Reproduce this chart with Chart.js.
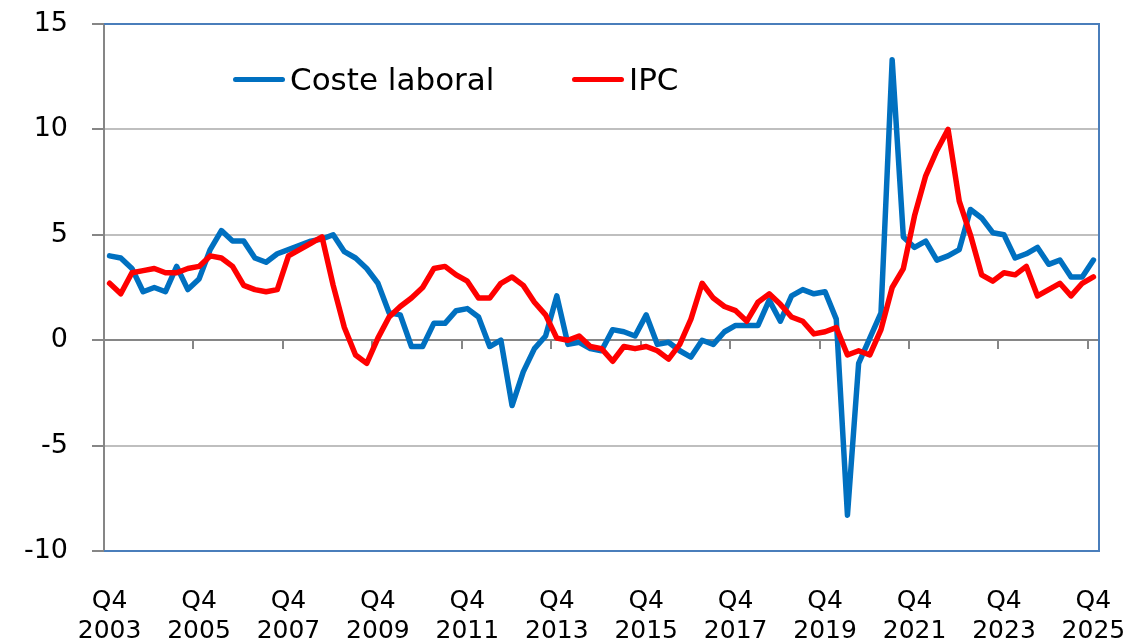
<!DOCTYPE html>
<html>
<head>
<meta charset="utf-8">
<script src="https://cdn.jsdelivr.net/npm/chart.js@4"></script>
<style>
  body { margin: 0; background: #fff; }
  #wrap { position: relative; width: 1132px; height: 641px; }
  .legend {
    position: absolute; top: 59px; height: 40px;
    display: flex; align-items: center;
    font: 31px 'DejaVu Sans', sans-serif; color: #000;
  }
  .legend .swatch { display: inline-block; width: 52px; height: 5px; margin-right: 5px; border-radius: 3px; }
</style>
</head>
<body>
<div id="wrap">
  <canvas id="myChart"></canvas>
  <div class="legend" style="left:233px"><span class="swatch" style="background:#0070C0"></span>Coste laboral</div>
  <div class="legend" style="left:572px"><span class="swatch" style="background:#FF0000"></span>IPC</div>
</div>
<script>
const ctx = document.getElementById('myChart').getContext('2d');

// Quarter labels, Q4 2003 .. Q4 2025
const labels = ['Q4 2003'];
for (let y = 2004; y <= 2025; y++) {
    labels.push('Q1 ' + y, 'Q2 ' + y, 'Q3 ' + y, 'Q4 ' + y);
}

// Coste laboral, year-on-year % change
const costeLaboral = [
    4.0, 3.9, 3.4, 2.3, 2.5, 2.3, 3.5, 2.4, 2.9, 4.3,
    5.2, 4.7, 4.7, 3.9, 3.7, 4.1, 4.3, 4.5, 4.7, 4.8,
    5.0, 4.2, 3.9, 3.4, 2.7, 1.3, 1.2, -0.3, -0.3, 0.8,
    0.8, 1.4, 1.5, 1.1, -0.3, 0.0, -3.1, -1.5, -0.4, 0.2,
    2.1, -0.2, -0.1, -0.4, -0.5, 0.5, 0.4, 0.2, 1.2, -0.2,
    -0.1, -0.5, -0.8, 0.0, -0.2, 0.4, 0.7, 0.7, 0.7, 1.9,
    0.9, 2.1, 2.4, 2.2, 2.3, 1.0, -8.3, -1.1, 0.1, 1.3,
    13.3, 4.9, 4.4, 4.7, 3.8, 4.0, 4.3, 6.2, 5.8, 5.1,
    5.0, 3.9, 4.1, 4.4, 3.6, 3.8, 3.0, 3.0, 3.8
];

// IPC, year-on-year % change
const ipc = [
    2.7, 2.2, 3.2, 3.3, 3.4, 3.2, 3.2, 3.4, 3.5, 4.0,
    3.9, 3.5, 2.6, 2.4, 2.3, 2.4, 4.0, 4.3, 4.6, 4.9,
    2.6, 0.6, -0.7, -1.1, 0.1, 1.1, 1.6, 2.0, 2.5, 3.4,
    3.5, 3.1, 2.8, 2.0, 2.0, 2.7, 3.0, 2.6, 1.8, 1.2,
    0.1, 0.0, 0.2, -0.3, -0.4, -1.0, -0.3, -0.4, -0.3, -0.5,
    -0.9, -0.2, 1.0, 2.7, 2.0, 1.6, 1.4, 0.9, 1.8, 2.2,
    1.7, 1.1, 0.9, 0.3, 0.4, 0.6, -0.7, -0.5, -0.7, 0.5,
    2.5, 3.4, 5.9, 7.8, 9.0, 10.0, 6.6, 5.0, 3.1, 2.8,
    3.2, 3.1, 3.5, 2.1, 2.4, 2.7, 2.1, 2.7, 3.0
];

const yTicks = [-10, -5, 0, 5, 10, 15];

const AXIS_GREY = '#868686';
const GRID_GREY = '#BFBFBF';
const FRAME_BLUE = '#4A7EBB';
const FONT = "'DejaVu Sans', sans-serif";

// blue frame on top, right and bottom of the plot area
const plotFrame = {
    id: 'plotFrame',
    afterDraw(chart) {
        const {ctx, chartArea: a} = chart;
        ctx.save();
        ctx.strokeStyle = FRAME_BLUE;
        ctx.lineWidth = 2;
        ctx.beginPath();
        ctx.moveTo(a.left, a.top);
        ctx.lineTo(a.right, a.top);
        ctx.lineTo(a.right, a.bottom);
        ctx.lineTo(a.left, a.bottom);
        ctx.stroke();
        ctx.restore();
    }
};

const data = {
    labels: labels,
    datasets: [{
        label: 'Coste laboral',
        data: costeLaboral,
        borderColor: '#0070C0',
        backgroundColor: '#0070C0',
        borderWidth: 5.5,
        pointRadius: 0,
        tension: 0,
        borderJoinStyle: 'round',
        borderCapStyle: 'round',
        order: 1
    }, {
        label: 'IPC',
        data: ipc,
        borderColor: '#FF0000',
        backgroundColor: '#FF0000',
        borderWidth: 5.5,
        pointRadius: 0,
        tension: 0,
        borderJoinStyle: 'round',
        borderCapStyle: 'round',
        order: 0
    }]
};

const options = {
    responsive: true,
    maintainAspectRatio: false,
    animation: false,
    layout: {
        padding: { left: 0, right: 33, top: 24, bottom: 0 }
    },
    plugins: {
        legend: { display: false },
        tooltip: { enabled: false }
    },
    scales: {
        x: {
            type: 'category',
            position: 'bottom',
            offset: true,
            grid: { display: false, drawTicks: false },
            border: { display: false },
            ticks: {
                autoSkip: false,
                maxRotation: 0,
                minRotation: 0,
                padding: 35,
                color: '#000',
                font: { family: FONT, size: 25, lineHeight: 1.2 },
                callback: function (val, index) {
                    return index % 8 === 0 ? this.getLabelForValue(val).split(' ') : '';
                }
            },
            afterFit: s => {
                s.height = 90;
                s.paddingLeft = 0;
                s.paddingRight = 0;
            }
        },
        // axis line with tick marks crossing at zero
        xZero: {
            type: 'category',
            axis: 'x',
            position: { y: 0 },
            offset: true,
            ticks: { display: false, autoSkip: false },
            border: { color: AXIS_GREY, width: 2 },
            grid: {
                drawOnChartArea: false,
                drawTicks: true,
                tickLength: 8,
                lineWidth: 2,
                offset: true,
                color: c => (c.index !== undefined && c.index % 8 === 0) ? AXIS_GREY : 'rgba(0,0,0,0)'
            }
        },
        y: {
            min: -10,
            max: 15,
            afterBuildTicks: s => { s.ticks = yTicks.map(v => ({ value: v })); },
            border: { color: AXIS_GREY, width: 2 },
            grid: {
                lineWidth: 2,
                tickLength: 12,
                tickColor: AXIS_GREY,
                color: c => c.tick && c.tick.value === 0 ? AXIS_GREY : GRID_GREY
            },
            ticks: {
                padding: 24,
                color: '#000',
                font: { family: FONT, size: 27 }
            },
            afterFit: s => {
                s.width = 104;
                s.paddingTop = 0;
                s.paddingBottom = 0;
            }
        }
    }
};

const myChart = new Chart(ctx, {
    type: 'line',
    data: data,
    options: options,
    plugins: [plotFrame]
});
</script>
</body>
</html>
